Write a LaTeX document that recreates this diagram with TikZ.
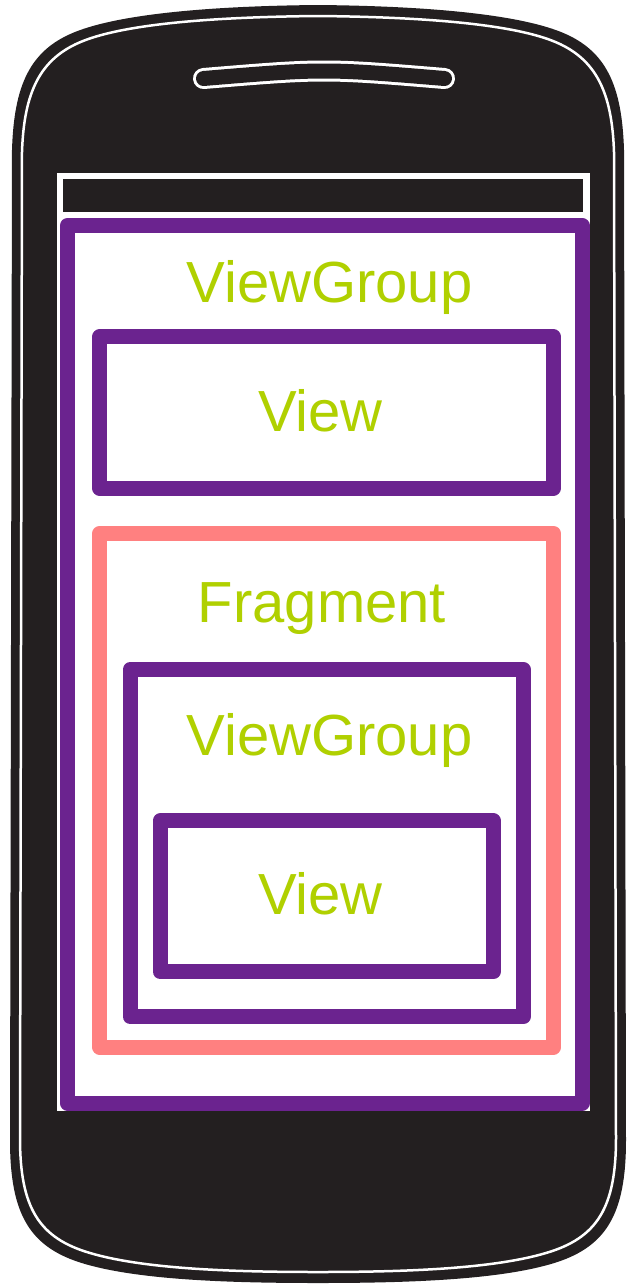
\documentclass[tikz,border=0pt]{standalone}
\usepackage{fontspec}
\setmainfont{Liberation Sans}
\usepackage{tikz}

\definecolor{phoneblack}{RGB}{35,31,32}
\definecolor{grouppurple}{RGB}{107,35,143}
\definecolor{fragmentred}{RGB}{255,128,128}
\definecolor{textgreen}{RGB}{176,208,0}

\begin{document}
\begin{tikzpicture}[x=0.5pt, y=-0.5pt,
  framebox/.style={draw=grouppurple, line width=7.5pt, line join=round, inner sep=0pt},
  boxtext/.style={text=textgreen, font=\fontsize{29}{29}\selectfont, anchor=base, inner sep=0pt}]
\useasboundingbox (0,0) rectangle (636,1286);

% phone body
\fill[phoneblack] (318,5) .. controls (210,6) and (120,14) .. (75,32) .. controls (30,50) and (14,85) .. (12,150) -- (10,1140) .. controls (10,1215) and (30,1248) .. (85,1264) .. controls (140,1280) and (230,1283) .. (318,1283) .. controls (406,1283) and (496,1280) .. (551,1264) .. controls (606,1248) and (626,1215) .. (626,1140) -- (624,150) .. controls (622,85) and (606,50) .. (561,32) .. controls (516,14) and (426,6) .. (318,5) -- cycle;
\draw[white, line width=1.25pt] (318,16) .. controls (212,17) and (126,24) .. (83,41) .. controls (40,58) and (24,92) .. (22,152) -- (20,1138) .. controls (20,1208) and (39,1238) .. (90,1253) .. controls (144,1269) and (232,1272) .. (318,1272) .. controls (404,1272) and (492,1269) .. (546,1253) .. controls (597,1238) and (616,1208) .. (616,1138) -- (614,152) .. controls (612,92) and (596,58) .. (553,41) .. controls (510,24) and (424,17) .. (318,16) -- cycle;

% speaker
\draw[white, line width=10.5pt, line cap=round] (203.5,78.5) .. controls (324,68.5) .. (444.5,78.5);
\draw[phoneblack, line width=7.5pt, line cap=round] (203.5,78.5) .. controls (324,68.5) .. (444.5,78.5);

% screen and status bar
\fill[white] (57,173) rectangle (590,1111);
\fill[phoneblack] (63,179) rectangle (583,212);

% boxes
\node[framebox, minimum width=257.25pt, minimum height=438.75pt] (outergroup) at (324.75,664.25) {};
\node[framebox, minimum width=226.75pt, minimum height=75.7pt] (topview) at (326.55,412.5) {};
\node[framebox, draw=fragmentred, minimum width=226.85pt, minimum height=256.75pt] (fragment) at (326.65,790.25) {};
\node[framebox, minimum width=196.5pt, minimum height=173.65pt] (innergroup) at (326.7,843.15) {};
\node[framebox, minimum width=166.5pt, minimum height=75.5pt] (innerview) at (326.7,896.3) {};

% texts
\node[boxtext] (outergrouptext) at (329.5,302) {ViewGroup};
\node[boxtext] (topviewtext) at (320.5,431) {View};
\node[boxtext] (fragmenttext) at (322,622) {Fragment};
\node[boxtext] (innergrouptext) at (329.5,755) {ViewGroup};
\node[boxtext] (innerviewtext) at (320.5,914) {View};

\end{tikzpicture}
\end{document}
